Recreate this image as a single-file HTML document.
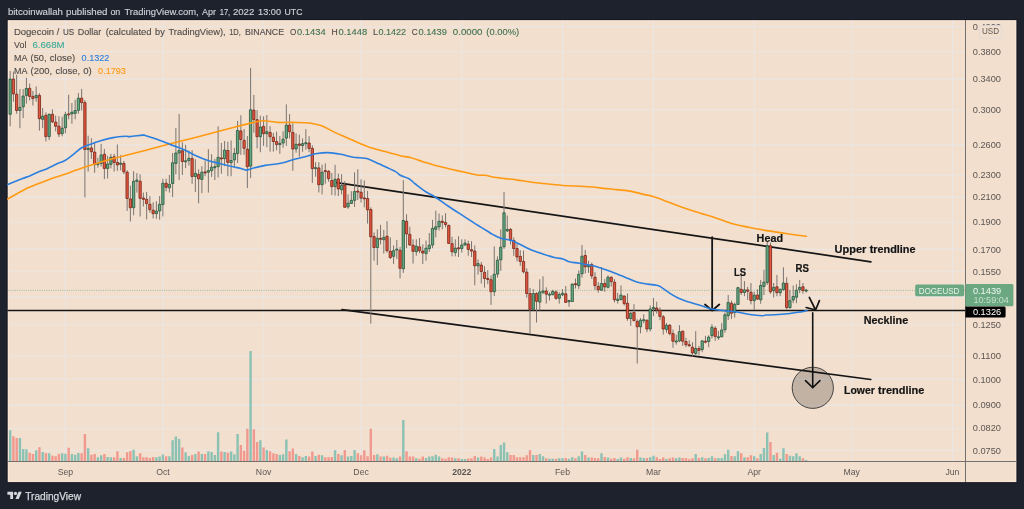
<!DOCTYPE html>
<html lang="en"><head><meta charset="utf-8"><title>DOGEUSD - TradingView</title>
<style>
html,body{margin:0;padding:0;background:#1e222d;}
body{width:1024px;height:509px;overflow:hidden;position:relative;font-family:"Liberation Sans",sans-serif;}
svg{position:absolute;left:0;top:0;display:block}
text{font-family:"Liberation Sans",sans-serif;}
.w{stroke:#7a7571;stroke-width:1;fill:none}
.g{fill:#68a985;stroke:#25553a;stroke-width:0.8}
.r{fill:#e3563f;stroke:#762417;stroke-width:0.8}
.grid{stroke:#eae6e3;stroke-width:1.1;fill:none}
.ax{font-size:8.7px;fill:#5b5653}
.lg{font-size:9.4px;fill:#4f4b48;stroke:#4f4b48;stroke-width:0.12}
.an{font-size:10.3px;font-weight:bold;fill:#141414;stroke:#141414;stroke-width:0.2;stroke-linejoin:round}
.dr{stroke:#151515;stroke-width:1.7;fill:none;stroke-linecap:round;stroke-linejoin:round}
</style></head><body>
<svg width="1024" height="509" viewBox="0 0 1024 509">
<rect x="0" y="0" width="1024" height="509" fill="#1e222d"/>
<rect x="7.2" y="19.7" width="1009.7" height="462.9" fill="none" stroke="#171a23" stroke-width="1"/>
<rect x="7.7" y="20.2" width="1008.7" height="461.9" fill="#f2dfce"/>
<rect x="8.5" y="21" width="1007.1" height="460.3" fill="none" stroke="#fbe9d9" stroke-width="0.8"/>

<path class="grid" d="M8 26.70H965M8 51.50H965M8 79.15H965M8 109.70H965M8 144.90H965M8 175.25H965M8 197.10H965M8 222.25H965M8 249.40H965M8 271.70H965M8 297.10H965M8 324.70H965M8 356.30H965M8 379.40H965M8 405.40H965M8 428.70H965M8 450.30H965M65.50 20.5V461M162.97 20.5V461M263.69 20.5V461M361.16 20.5V461M461.88 20.5V461M562.60 20.5V461M653.57 20.5V461M754.29 20.5V461M851.76 20.5V461M952.48 20.5V461"/>
<g class="dr">
<path d="M8 310.4H965" stroke-width="1.45"/>
<path d="M336.5 182.6L870.9 261.8"/>
<path d="M342 309.6L870.8 379.5"/>
<path d="M712.15 237.2V310.3M705 304.5L712.15 310.5L719.3 304.5" stroke-width="1.8"/>
<path d="M812.7 312.9V387.6M805.5 380.6L812.7 387.8L819.9 380.6" stroke-width="1.6"/>
<path d="M809.3 297.4L815.6 310M806.2 307.5L815.6 310L819.4 300.6"/>
</g>
<circle cx="812.8" cy="387.8" r="20.6" fill="#000" fill-opacity="0.2" stroke="#222" stroke-width="0.8"/>
<path fill="#26a69a" fill-opacity="0.5" d="M8.97 430.2h2.4V461h-2.4zM18.72 438.1h2.4V461h-2.4zM21.97 449.0h2.4V461h-2.4zM25.21 449.3h2.4V461h-2.4zM34.96 450.3h2.4V461h-2.4zM41.46 451.9h2.4V461h-2.4zM47.96 453.2h2.4V461h-2.4zM60.95 453.2h2.4V461h-2.4zM64.20 453.8h2.4V461h-2.4zM70.70 454.1h2.4V461h-2.4zM73.95 454.7h2.4V461h-2.4zM77.20 453.1h2.4V461h-2.4zM86.95 448.2h2.4V461h-2.4zM96.69 457.2h2.4V461h-2.4zM99.94 455.3h2.4V461h-2.4zM106.44 457.0h2.4V461h-2.4zM109.69 457.2h2.4V461h-2.4zM119.44 458.1h2.4V461h-2.4zM132.43 449.7h2.4V461h-2.4zM135.68 456.2h2.4V461h-2.4zM155.18 457.2h2.4V461h-2.4zM158.42 456.6h2.4V461h-2.4zM161.67 454.4h2.4V461h-2.4zM168.17 456.2h2.4V461h-2.4zM171.42 440.2h2.4V461h-2.4zM174.67 436.5h2.4V461h-2.4zM177.92 439.0h2.4V461h-2.4zM184.42 452.2h2.4V461h-2.4zM187.66 456.0h2.4V461h-2.4zM194.16 454.1h2.4V461h-2.4zM200.66 454.1h2.4V461h-2.4zM207.16 451.2h2.4V461h-2.4zM210.41 451.9h2.4V461h-2.4zM213.66 455.1h2.4V461h-2.4zM216.91 432.3h2.4V461h-2.4zM223.40 451.9h2.4V461h-2.4zM229.90 451.6h2.4V461h-2.4zM233.15 454.3h2.4V461h-2.4zM236.40 433.9h2.4V461h-2.4zM249.40 351.0h2.4V461h-2.4zM259.14 440.2h2.4V461h-2.4zM265.64 449.9h2.4V461h-2.4zM278.64 455.1h2.4V461h-2.4zM281.89 454.3h2.4V461h-2.4zM285.14 439.6h2.4V461h-2.4zM294.88 454.1h2.4V461h-2.4zM301.38 457.2h2.4V461h-2.4zM304.63 456.0h2.4V461h-2.4zM314.38 456.0h2.4V461h-2.4zM320.87 455.3h2.4V461h-2.4zM333.87 450.3h2.4V461h-2.4zM340.37 455.3h2.4V461h-2.4zM346.87 456.6h2.4V461h-2.4zM350.12 456.0h2.4V461h-2.4zM353.36 449.9h2.4V461h-2.4zM376.11 454.3h2.4V461h-2.4zM382.61 456.6h2.4V461h-2.4zM392.35 457.5h2.4V461h-2.4zM395.60 458.2h2.4V461h-2.4zM402.10 419.9h2.4V461h-2.4zM415.10 458.2h2.4V461h-2.4zM424.84 458.1h2.4V461h-2.4zM428.09 456.6h2.4V461h-2.4zM431.34 456.3h2.4V461h-2.4zM434.59 454.7h2.4V461h-2.4zM437.84 456.6h2.4V461h-2.4zM454.08 458.2h2.4V461h-2.4zM460.58 459.1h2.4V461h-2.4zM463.83 459.1h2.4V461h-2.4zM476.83 457.6h2.4V461h-2.4zM493.07 449.0h2.4V461h-2.4zM496.32 456.6h2.4V461h-2.4zM499.57 445.0h2.4V461h-2.4zM502.82 442.5h2.4V461h-2.4zM506.07 452.2h2.4V461h-2.4zM532.06 455.1h2.4V461h-2.4zM538.56 454.1h2.4V461h-2.4zM541.81 456.3h2.4V461h-2.4zM548.30 458.8h2.4V461h-2.4zM551.55 458.8h2.4V461h-2.4zM558.05 458.2h2.4V461h-2.4zM561.30 458.2h2.4V461h-2.4zM567.80 458.8h2.4V461h-2.4zM571.05 457.2h2.4V461h-2.4zM577.54 456.2h2.4V461h-2.4zM580.79 451.6h2.4V461h-2.4zM587.29 457.6h2.4V461h-2.4zM600.29 453.2h2.4V461h-2.4zM606.79 457.6h2.4V461h-2.4zM616.53 459.1h2.4V461h-2.4zM619.78 457.6h2.4V461h-2.4zM629.53 458.1h2.4V461h-2.4zM639.28 457.6h2.4V461h-2.4zM642.52 458.1h2.4V461h-2.4zM649.02 457.2h2.4V461h-2.4zM652.27 455.7h2.4V461h-2.4zM665.27 459.1h2.4V461h-2.4zM675.01 458.2h2.4V461h-2.4zM678.26 457.6h2.4V461h-2.4zM694.51 454.1h2.4V461h-2.4zM701.01 457.2h2.4V461h-2.4zM707.50 458.1h2.4V461h-2.4zM710.75 456.2h2.4V461h-2.4zM717.25 458.1h2.4V461h-2.4zM720.50 458.1h2.4V461h-2.4zM723.75 454.3h2.4V461h-2.4zM727.00 449.7h2.4V461h-2.4zM733.50 456.2h2.4V461h-2.4zM736.75 451.3h2.4V461h-2.4zM743.24 457.2h2.4V461h-2.4zM752.99 456.2h2.4V461h-2.4zM759.49 454.1h2.4V461h-2.4zM762.74 448.0h2.4V461h-2.4zM765.99 432.4h2.4V461h-2.4zM772.48 455.1h2.4V461h-2.4zM778.98 458.8h2.4V461h-2.4zM782.23 448.2h2.4V461h-2.4zM788.73 455.7h2.4V461h-2.4zM791.98 456.2h2.4V461h-2.4zM795.23 453.2h2.4V461h-2.4zM798.48 456.2h2.4V461h-2.4zM804.97 460.1h2.4V461h-2.4z"/>
<path fill="#ef5350" fill-opacity="0.5" d="M12.22 436.2h2.4V461h-2.4zM15.47 438.1h2.4V461h-2.4zM28.46 452.8h2.4V461h-2.4zM31.71 454.1h2.4V461h-2.4zM38.21 447.2h2.4V461h-2.4zM44.71 453.1h2.4V461h-2.4zM51.21 455.7h2.4V461h-2.4zM54.46 456.2h2.4V461h-2.4zM57.70 454.1h2.4V461h-2.4zM67.45 447.8h2.4V461h-2.4zM80.45 453.2h2.4V461h-2.4zM83.70 433.9h2.4V461h-2.4zM90.20 454.7h2.4V461h-2.4zM93.44 454.1h2.4V461h-2.4zM103.19 454.1h2.4V461h-2.4zM112.94 457.2h2.4V461h-2.4zM116.19 451.2h2.4V461h-2.4zM122.69 458.1h2.4V461h-2.4zM125.93 452.2h2.4V461h-2.4zM129.18 450.9h2.4V461h-2.4zM138.93 453.2h2.4V461h-2.4zM142.18 457.2h2.4V461h-2.4zM145.43 457.2h2.4V461h-2.4zM148.68 458.1h2.4V461h-2.4zM151.93 457.0h2.4V461h-2.4zM164.92 456.2h2.4V461h-2.4zM181.17 447.5h2.4V461h-2.4zM190.91 454.9h2.4V461h-2.4zM197.41 451.6h2.4V461h-2.4zM203.91 454.1h2.4V461h-2.4zM220.16 451.6h2.4V461h-2.4zM226.65 452.8h2.4V461h-2.4zM239.65 444.9h2.4V461h-2.4zM242.90 450.7h2.4V461h-2.4zM246.15 428.7h2.4V461h-2.4zM252.65 429.2h2.4V461h-2.4zM255.89 442.1h2.4V461h-2.4zM262.39 447.5h2.4V461h-2.4zM268.89 451.2h2.4V461h-2.4zM272.14 453.2h2.4V461h-2.4zM275.39 454.1h2.4V461h-2.4zM288.38 451.2h2.4V461h-2.4zM291.63 448.4h2.4V461h-2.4zM298.13 456.0h2.4V461h-2.4zM307.88 456.6h2.4V461h-2.4zM311.13 451.6h2.4V461h-2.4zM317.63 454.7h2.4V461h-2.4zM324.12 457.2h2.4V461h-2.4zM327.37 457.2h2.4V461h-2.4zM330.62 457.0h2.4V461h-2.4zM337.12 454.1h2.4V461h-2.4zM343.62 450.0h2.4V461h-2.4zM356.61 453.2h2.4V461h-2.4zM359.86 455.3h2.4V461h-2.4zM363.11 450.3h2.4V461h-2.4zM366.36 456.2h2.4V461h-2.4zM369.61 428.7h2.4V461h-2.4zM372.86 455.1h2.4V461h-2.4zM379.36 456.6h2.4V461h-2.4zM385.85 455.7h2.4V461h-2.4zM389.10 457.8h2.4V461h-2.4zM398.85 456.6h2.4V461h-2.4zM405.35 451.2h2.4V461h-2.4zM408.60 456.6h2.4V461h-2.4zM411.85 456.6h2.4V461h-2.4zM418.34 458.8h2.4V461h-2.4zM421.59 456.6h2.4V461h-2.4zM441.09 458.2h2.4V461h-2.4zM444.34 458.8h2.4V461h-2.4zM447.59 457.2h2.4V461h-2.4zM450.83 457.6h2.4V461h-2.4zM457.33 458.2h2.4V461h-2.4zM467.08 458.5h2.4V461h-2.4zM470.33 458.2h2.4V461h-2.4zM473.58 456.0h2.4V461h-2.4zM480.08 456.6h2.4V461h-2.4zM483.32 457.6h2.4V461h-2.4zM486.57 459.1h2.4V461h-2.4zM489.82 457.6h2.4V461h-2.4zM509.32 455.1h2.4V461h-2.4zM512.56 455.1h2.4V461h-2.4zM515.81 457.2h2.4V461h-2.4zM519.06 457.2h2.4V461h-2.4zM522.31 457.2h2.4V461h-2.4zM525.56 455.3h2.4V461h-2.4zM528.81 450.0h2.4V461h-2.4zM535.31 455.1h2.4V461h-2.4zM545.05 458.2h2.4V461h-2.4zM554.80 458.8h2.4V461h-2.4zM564.55 458.1h2.4V461h-2.4zM574.30 458.2h2.4V461h-2.4zM584.04 455.1h2.4V461h-2.4zM590.54 457.6h2.4V461h-2.4zM593.79 458.1h2.4V461h-2.4zM597.04 458.2h2.4V461h-2.4zM603.54 457.0h2.4V461h-2.4zM610.03 458.8h2.4V461h-2.4zM613.28 458.1h2.4V461h-2.4zM623.03 458.8h2.4V461h-2.4zM626.28 457.2h2.4V461h-2.4zM632.78 458.2h2.4V461h-2.4zM636.03 449.7h2.4V461h-2.4zM645.77 458.1h2.4V461h-2.4zM655.52 457.2h2.4V461h-2.4zM658.77 459.1h2.4V461h-2.4zM662.02 457.6h2.4V461h-2.4zM668.52 458.2h2.4V461h-2.4zM671.77 457.6h2.4V461h-2.4zM681.51 458.1h2.4V461h-2.4zM684.76 458.1h2.4V461h-2.4zM688.01 459.3h2.4V461h-2.4zM691.26 458.2h2.4V461h-2.4zM697.76 458.1h2.4V461h-2.4zM704.26 458.2h2.4V461h-2.4zM714.00 458.2h2.4V461h-2.4zM730.25 456.0h2.4V461h-2.4zM739.99 453.2h2.4V461h-2.4zM746.49 457.2h2.4V461h-2.4zM749.74 455.3h2.4V461h-2.4zM756.24 458.2h2.4V461h-2.4zM769.24 441.9h2.4V461h-2.4zM775.73 452.8h2.4V461h-2.4zM785.48 454.1h2.4V461h-2.4zM801.73 458.2h2.4V461h-2.4z"/>
<path d="M8 290.4H965" stroke="#6aa681" stroke-width="0.9" stroke-dasharray="0.9 1.36" stroke-opacity="0.75" fill="none"/>
<path class="w" d="M10.17 70.9V126.3M13.42 71.5V101.7M16.67 74.7V113.7M19.92 89.1V128.2M23.17 89.1V118.1M26.41 77.8V103.6M29.66 83.5V100.5M32.91 91.0V105.5M36.16 86.4V101.7M39.41 93.2V130.7M42.66 108.0V128.2M45.91 112.4V141.4M49.16 113.7V140.1M52.41 109.3V123.1M55.66 115.6V131.3M58.91 116.2V137.0M62.15 116.8V136.3M65.40 111.8V133.2M68.65 94.8V119.3M71.90 103.0V123.7M75.15 99.8V119.3M78.40 92.9V113.7M81.65 88.9V110.5M84.90 100.2V197.4M88.15 135.7V171.6M91.40 138.2V159.0M94.64 142.6V172.8M97.89 157.7V167.8M101.14 143.9V166.5M104.39 148.9V179.1M107.64 155.8V178.5M110.89 153.9V168.4M114.14 153.9V171.6M117.39 144.5V170.9M120.64 155.2V170.3M123.89 160.9V174.1M127.13 170.3V210.9M130.38 185.7V221.5M133.63 171.2V215.3M136.88 173.1V192.6M140.13 174.4V216.5M143.38 192.6V206.5M146.63 192.0V219.4M149.88 196.1V212.7M153.13 202.3V218.4M156.38 201.4V218.7M159.62 196.1V219.7M162.87 178.8V216.5M166.12 178.8V191.3M169.37 175.0V192.6M172.62 153.0V197.0M175.87 128.0V174.4M179.12 113.9V180.0M182.37 142.3V175.0M185.62 144.8V168.1M188.86 150.5V165.5M192.11 150.1V183.8M195.36 159.3V192.0M198.61 169.3V203.3M201.86 166.2V193.2M205.11 160.5V176.2M208.36 149.2V192.6M211.61 154.2V176.9M214.86 158.9V180.0M218.11 126.3V177.5M221.35 142.9V173.7M224.60 141.0V166.2M227.85 141.7V176.2M231.10 140.4V176.2M234.35 147.9V167.4M237.60 120.9V163.0M240.85 115.2V154.9M244.10 129.0V154.9M247.35 136.0V188.1M250.60 67.9V178.0M253.84 94.9V132.7M257.09 110.1V148.4M260.34 115.7V152.2M263.59 116.3V145.9M266.84 115.1V147.2M270.09 126.2V151.6M273.34 132.9V151.6M276.59 131.7V150.3M279.84 136.1V153.8M283.09 131.2V147.8M286.34 104.4V145.9M289.58 114.1V138.4M292.83 123.3V170.8M296.08 133.3V152.8M299.33 134.6V156.6M302.58 138.4V151.8M305.83 129.2V149.7M309.08 136.2V152.2M312.33 145.3V183.0M315.58 162.2V176.7M318.83 162.2V192.5M322.07 164.6V194.4M325.32 163.3V183.7M328.57 170.1V181.8M331.82 173.0V195.0M335.07 164.8V195.6M338.32 173.6V196.0M341.57 174.2V194.4M344.82 181.1V207.3M348.07 194.4V208.8M351.32 191.2V203.5M354.56 172.3V206.9M357.81 169.2V200.0M361.06 179.3V202.5M364.31 180.5V207.3M367.56 190.9V223.6M370.81 207.3V323.7M374.06 232.4V260.7M377.31 229.3V265.1M380.56 224.9V244.4M383.81 229.9V253.6M387.05 221.1V252.6M390.30 237.4V258.9M393.55 245.4V263.9M396.80 240.0V258.9M400.05 246.9V278.4M403.30 180.2V272.9M406.55 214.2V248.2M409.80 226.8V245.7M413.05 239.3V263.6M416.30 239.3V255.7M419.54 238.1V253.2M422.79 244.4V263.9M426.04 240.6V260.7M429.29 233.0V251.9M432.54 219.8V248.2M435.79 210.7V237.4M439.04 213.5V230.5M442.29 215.4V229.3M445.54 213.2V227.4M448.79 224.5V243.8M452.03 236.8V256.3M455.28 239.3V256.3M458.53 236.2V257.0M461.78 239.3V252.6M465.03 239.3V245.7M468.28 240.6V255.7M471.53 241.2V257.0M474.78 245.4V285.3M478.03 259.5V274.6M481.28 262.0V283.5M484.52 266.2V287.6M487.77 270.2V284.1M491.02 275.3V304.9M494.27 246.4V296.1M497.52 256.4V277.6M500.77 229.4V270.9M504.02 191.9V248.9M507.27 215.5V231.9M510.52 228.1V244.5M513.76 237.5V255.8M517.01 243.8V261.4M520.26 250.1V265.8M523.51 250.5V273.4M526.76 268.4V297.7M530.01 287.9V333.4M533.26 289.1V310.5M536.51 292.3V322.5M539.76 279.3V310.5M543.01 276.3V294.2M546.25 287.3V303.6M549.50 292.3V300.5M552.75 289.8V295.4M556.00 290.4V299.8M559.25 292.3V303.6M562.50 289.1V296.1M565.75 286.0V303.0M569.00 299.8V306.8M572.25 283.5V301.7M575.50 278.5V288.5M578.75 270.5V288.9M581.99 245.1V277.6M585.24 249.9V273.4M588.49 260.8V272.8M591.74 262.7V278.8M594.99 272.2V289.8M598.24 282.2V292.7M601.49 267.1V290.8M604.74 279.1V291.9M607.99 275.3V288.5M611.24 276.6V286.6M614.48 279.1V302.4M617.73 292.9V303.6M620.98 285.4V300.5M624.23 295.4V305.5M627.48 293.5V320.8M630.73 311.8V325.8M633.98 304.2V321.4M637.23 319.3V363.6M640.48 318.1V333.4M643.73 314.3V323.3M646.97 319.3V332.1M650.22 305.5V331.5M653.47 297.9V316.2M656.72 301.7V313.7M659.97 307.4V320.2M663.22 314.9V334.6M666.47 323.1V332.7M669.72 324.1V335.3M672.97 329.6V347.8M676.22 334.6V344.7M679.46 325.2V342.2M682.71 330.6V345.9M685.96 337.8V347.2M689.21 340.3V346.6M692.46 342.2V356.6M695.71 331.1V355.4M698.96 345.9V355.4M702.21 339.9V352.2M705.46 335.9V343.4M708.70 335.3V347.2M711.95 324.3V338.4M715.20 326.1V340.9M718.45 330.9V339.9M721.70 323.1V337.1M724.95 312.4V332.7M728.20 295.0V320.0M731.45 300.6V318.9M734.70 302.5V317.6M737.95 286.8V305.0M741.19 274.9V295.0M744.44 281.1V296.2M747.69 286.8V300.0M750.94 283.0V304.4M754.19 291.8V310.1M757.44 289.3V300.0M760.69 279.9V303.8M763.94 269.8V295.0M767.19 241.9V284.9M770.44 242.6V293.7M773.68 283.0V297.5M776.93 274.9V296.2M780.18 288.7V296.2M783.43 267.3V290.6M786.68 277.4V309.4M789.93 289.9V308.8M793.18 285.5V303.2M796.43 284.3V303.2M799.68 279.9V293.1M802.93 283.0V293.7M806.17 288.9V292.5"/>
<path class="g" d="M9.02 79.1h2.3V114.3h-2.3zM18.77 107.4h2.3V110.5h-2.3zM22.02 96.1h2.3V106.8h-2.3zM25.27 88.5h2.3V95.4h-2.3zM35.01 95.4h2.3V97.7h-2.3zM41.51 116.2h2.3V119.3h-2.3zM48.01 114.3h2.3V136.6h-2.3zM61.00 128.2h2.3V133.6h-2.3zM64.25 114.7h2.3V127.8h-2.3zM70.75 112.2h2.3V113.9h-2.3zM74.00 110.5h2.3V113.3h-2.3zM77.25 98.2h2.3V110.3h-2.3zM87.00 148.3h2.3V149.5h-2.3zM96.74 163.4h2.3V164.6h-2.3zM99.99 155.0h2.3V163.4h-2.3zM106.49 164.0h2.3V168.4h-2.3zM109.74 157.3h2.3V164.3h-2.3zM119.49 163.1h2.3V164.3h-2.3zM132.48 181.3h2.3V207.7h-2.3zM135.73 180.0h2.3V181.3h-2.3zM155.22 211.1h2.3V213.6h-2.3zM158.47 204.3h2.3V210.9h-2.3zM161.72 183.2h2.3V204.6h-2.3zM168.22 184.4h2.3V187.8h-2.3zM171.47 162.8h2.3V183.5h-2.3zM174.72 153.0h2.3V163.4h-2.3zM177.97 150.5h2.3V153.0h-2.3zM184.47 160.8h2.3V161.8h-2.3zM187.71 158.3h2.3V160.5h-2.3zM194.21 173.3h2.3V176.5h-2.3zM200.71 172.2h2.3V179.4h-2.3zM207.21 170.6h2.3V172.2h-2.3zM210.46 167.2h2.3V170.6h-2.3zM213.71 166.7h2.3V167.7h-2.3zM216.96 157.4h2.3V166.6h-2.3zM223.45 150.1h2.3V158.6h-2.3zM229.95 160.5h2.3V162.7h-2.3zM233.20 153.4h2.3V159.9h-2.3zM236.45 130.5h2.3V153.6h-2.3zM249.45 109.8h2.3V166.1h-2.3zM259.19 127.0h2.3V136.7h-2.3zM265.69 131.7h2.3V133.7h-2.3zM278.69 143.4h2.3V144.6h-2.3zM281.94 139.2h2.3V143.0h-2.3zM285.19 125.1h2.3V138.1h-2.3zM294.93 144.3h2.3V149.0h-2.3zM301.43 143.6h2.3V145.6h-2.3zM304.68 142.7h2.3V143.7h-2.3zM314.43 167.6h2.3V168.6h-2.3zM320.92 172.3h2.3V184.7h-2.3zM333.92 179.3h2.3V186.6h-2.3zM340.42 185.5h2.3V189.7h-2.3zM346.92 203.2h2.3V206.9h-2.3zM350.17 200.4h2.3V203.5h-2.3zM353.41 191.6h2.3V200.3h-2.3zM376.16 238.3h2.3V247.5h-2.3zM382.66 237.4h2.3V239.7h-2.3zM392.40 250.7h2.3V256.3h-2.3zM395.65 249.1h2.3V250.1h-2.3zM402.15 220.5h2.3V268.7h-2.3zM415.15 246.2h2.3V251.7h-2.3zM424.89 248.2h2.3V253.6h-2.3zM428.14 245.2h2.3V248.6h-2.3zM431.39 228.4h2.3V245.0h-2.3zM434.64 226.8h2.3V229.3h-2.3zM437.89 221.3h2.3V226.8h-2.3zM454.13 248.2h2.3V252.6h-2.3zM460.63 245.0h2.3V248.6h-2.3zM463.88 243.1h2.3V245.0h-2.3zM476.88 263.6h2.3V265.8h-2.3zM493.12 274.3h2.3V291.7h-2.3zM496.37 260.2h2.3V274.1h-2.3zM499.62 247.2h2.3V259.8h-2.3zM502.87 212.8h2.3V246.7h-2.3zM506.12 229.4h2.3V230.9h-2.3zM532.11 293.5h2.3V309.3h-2.3zM538.61 291.9h2.3V302.1h-2.3zM541.86 291.0h2.3V292.3h-2.3zM548.35 294.2h2.3V295.2h-2.3zM551.60 291.4h2.3V294.6h-2.3zM558.10 294.6h2.3V298.3h-2.3zM561.35 293.2h2.3V294.8h-2.3zM567.85 300.5h2.3V301.7h-2.3zM571.10 284.1h2.3V301.5h-2.3zM577.60 274.3h2.3V285.6h-2.3zM580.84 256.2h2.3V273.7h-2.3zM587.34 265.2h2.3V266.8h-2.3zM600.34 283.5h2.3V290.2h-2.3zM606.84 277.2h2.3V287.3h-2.3zM616.58 299.2h2.3V300.5h-2.3zM619.83 295.1h2.3V299.5h-2.3zM629.58 313.3h2.3V318.5h-2.3zM639.33 320.2h2.3V326.8h-2.3zM642.58 319.7h2.3V320.7h-2.3zM649.07 309.0h2.3V329.0h-2.3zM652.32 307.4h2.3V309.0h-2.3zM665.32 325.2h2.3V329.4h-2.3zM675.07 341.0h2.3V342.0h-2.3zM678.31 331.7h2.3V340.9h-2.3zM694.56 348.5h2.3V353.5h-2.3zM701.06 340.9h2.3V349.5h-2.3zM707.55 337.1h2.3V341.5h-2.3zM710.80 327.3h2.3V335.6h-2.3zM717.30 336.8h2.3V337.8h-2.3zM720.55 330.0h2.3V336.8h-2.3zM723.80 314.8h2.3V329.6h-2.3zM727.05 302.5h2.3V315.7h-2.3zM733.55 304.4h2.3V312.6h-2.3zM736.80 287.7h2.3V304.4h-2.3zM743.29 289.9h2.3V292.5h-2.3zM753.04 295.2h2.3V300.6h-2.3zM759.54 285.5h2.3V299.8h-2.3zM762.79 282.2h2.3V286.4h-2.3zM766.04 245.7h2.3V282.4h-2.3zM772.53 287.4h2.3V290.6h-2.3zM779.03 289.3h2.3V292.7h-2.3zM782.28 283.0h2.3V289.7h-2.3zM788.78 300.6h2.3V307.6h-2.3zM792.03 296.5h2.3V300.0h-2.3zM795.28 290.3h2.3V297.2h-2.3zM798.53 287.4h2.3V289.7h-2.3zM805.02 290.1h2.3V291.1h-2.3z"/>
<path class="r" d="M12.27 79.1h2.3V93.9h-2.3zM15.52 94.2h2.3V110.5h-2.3zM28.51 88.3h2.3V96.4h-2.3zM31.76 96.4h2.3V98.6h-2.3zM38.26 95.4h2.3V118.7h-2.3zM44.76 115.3h2.3V136.6h-2.3zM51.26 114.3h2.3V121.8h-2.3zM54.51 122.1h2.3V126.2h-2.3zM57.76 126.2h2.3V134.1h-2.3zM67.50 113.9h2.3V114.9h-2.3zM80.50 98.2h2.3V102.6h-2.3zM83.75 102.6h2.3V149.5h-2.3zM90.25 147.9h2.3V151.7h-2.3zM93.49 152.1h2.3V164.6h-2.3zM103.24 154.2h2.3V168.4h-2.3zM112.99 156.8h2.3V162.4h-2.3zM116.24 162.4h2.3V164.9h-2.3zM122.73 163.4h2.3V171.8h-2.3zM125.98 172.2h2.3V198.5h-2.3zM129.23 198.9h2.3V207.7h-2.3zM138.98 181.3h2.3V198.3h-2.3zM142.23 198.0h2.3V199.3h-2.3zM145.48 199.3h2.3V203.6h-2.3zM148.73 204.2h2.3V209.6h-2.3zM151.98 210.2h2.3V213.6h-2.3zM164.97 183.2h2.3V187.3h-2.3zM181.22 150.8h2.3V161.5h-2.3zM190.96 158.4h2.3V176.5h-2.3zM197.46 174.4h2.3V178.8h-2.3zM203.96 171.9h2.3V172.9h-2.3zM220.20 157.9h2.3V158.9h-2.3zM226.70 150.5h2.3V162.4h-2.3zM239.70 130.9h2.3V139.5h-2.3zM242.95 140.4h2.3V148.3h-2.3zM246.20 149.2h2.3V166.7h-2.3zM252.69 110.1h2.3V119.5h-2.3zM255.94 119.7h2.3V136.7h-2.3zM262.44 126.4h2.3V133.7h-2.3zM268.94 132.4h2.3V136.7h-2.3zM272.19 137.3h2.3V141.5h-2.3zM275.44 141.5h2.3V144.6h-2.3zM288.43 125.1h2.3V131.8h-2.3zM291.68 132.4h2.3V149.0h-2.3zM298.18 144.0h2.3V145.3h-2.3zM307.93 143.0h2.3V148.4h-2.3zM311.18 148.4h2.3V168.6h-2.3zM317.68 167.9h2.3V184.7h-2.3zM324.17 170.6h2.3V171.6h-2.3zM327.42 171.3h2.3V178.6h-2.3zM330.67 180.5h2.3V186.6h-2.3zM337.17 178.9h2.3V188.9h-2.3zM343.67 185.2h2.3V207.3h-2.3zM356.66 191.1h2.3V192.1h-2.3zM359.91 192.2h2.3V198.1h-2.3zM363.16 197.9h2.3V198.9h-2.3zM366.41 198.5h2.3V209.8h-2.3zM369.66 209.5h2.3V236.8h-2.3zM372.91 236.6h2.3V247.5h-2.3zM379.41 238.3h2.3V239.3h-2.3zM385.90 236.2h2.3V250.7h-2.3zM389.15 251.3h2.3V257.6h-2.3zM398.90 250.3h2.3V268.3h-2.3zM405.40 221.3h2.3V233.9h-2.3zM408.65 234.3h2.3V245.0h-2.3zM411.90 245.2h2.3V251.3h-2.3zM418.39 246.9h2.3V250.7h-2.3zM421.64 251.1h2.3V253.0h-2.3zM441.14 221.3h2.3V222.4h-2.3zM444.39 222.4h2.3V224.6h-2.3zM447.64 225.5h2.3V243.4h-2.3zM450.88 243.7h2.3V251.7h-2.3zM457.38 247.8h2.3V248.8h-2.3zM467.13 244.1h2.3V249.4h-2.3zM470.38 249.7h2.3V251.1h-2.3zM473.63 251.1h2.3V265.8h-2.3zM480.13 265.1h2.3V271.5h-2.3zM483.37 272.3h2.3V278.5h-2.3zM486.62 278.4h2.3V279.5h-2.3zM489.87 279.7h2.3V291.7h-2.3zM509.37 229.4h2.3V239.7h-2.3zM512.62 240.4h2.3V248.5h-2.3zM515.86 248.5h2.3V257.0h-2.3zM519.11 256.4h2.3V261.4h-2.3zM522.36 261.4h2.3V271.8h-2.3zM525.61 272.2h2.3V293.5h-2.3zM528.86 293.5h2.3V309.3h-2.3zM535.36 293.5h2.3V301.3h-2.3zM545.11 291.0h2.3V294.2h-2.3zM554.85 291.9h2.3V298.3h-2.3zM564.60 293.8h2.3V302.4h-2.3zM574.35 283.7h2.3V284.7h-2.3zM584.09 255.5h2.3V266.8h-2.3zM590.59 264.6h2.3V275.9h-2.3zM593.84 277.2h2.3V285.6h-2.3zM597.09 286.4h2.3V289.8h-2.3zM603.59 283.5h2.3V286.9h-2.3zM610.09 277.2h2.3V281.6h-2.3zM613.33 282.2h2.3V299.8h-2.3zM623.08 296.1h2.3V303.6h-2.3zM626.33 303.2h2.3V318.5h-2.3zM632.83 312.4h2.3V320.6h-2.3zM636.08 321.4h2.3V326.8h-2.3zM645.82 320.3h2.3V329.0h-2.3zM655.57 308.0h2.3V309.9h-2.3zM658.82 310.3h2.3V316.4h-2.3zM662.07 316.8h2.3V329.0h-2.3zM668.57 325.2h2.3V333.6h-2.3zM671.82 333.6h2.3V341.2h-2.3zM681.56 331.2h2.3V341.2h-2.3zM684.81 341.5h2.3V344.7h-2.3zM688.06 344.8h2.3V345.8h-2.3zM691.31 347.2h2.3V352.9h-2.3zM697.81 348.5h2.3V350.4h-2.3zM704.31 341.2h2.3V342.2h-2.3zM714.05 328.3h2.3V336.5h-2.3zM730.30 303.2h2.3V313.2h-2.3zM740.04 289.3h2.3V292.5h-2.3zM746.54 289.9h2.3V291.2h-2.3zM749.79 292.2h2.3V300.6h-2.3zM756.29 295.0h2.3V299.1h-2.3zM769.29 245.7h2.3V291.8h-2.3zM775.78 286.8h2.3V292.7h-2.3zM785.53 283.4h2.3V307.6h-2.3zM801.78 286.8h2.3V290.6h-2.3z"/>
<path d="M7.8 199.0C10.7 197.4 19.7 191.9 25.1 189.2C30.5 186.5 36.0 184.6 40.2 182.9C44.4 181.2 46.1 180.6 50.3 179.1C54.5 177.6 61.2 175.6 65.4 174.1C69.6 172.6 71.6 171.7 75.4 170.3C79.2 168.9 83.8 167.2 88.0 165.9C92.2 164.6 96.4 163.5 100.6 162.3C104.8 161.1 108.6 159.8 113.2 158.6C117.8 157.3 122.7 156.2 128.0 154.8C133.3 153.4 138.0 152.2 145.1 150.4C152.2 148.6 161.9 146.0 170.3 143.8C178.7 141.7 187.5 139.5 195.4 137.5C203.3 135.5 211.1 133.4 218.0 131.6C224.9 129.8 231.2 128.0 237.0 126.5C242.8 125.0 248.2 123.6 252.6 122.6C257.0 121.6 259.4 120.7 263.6 120.7C267.8 120.7 272.8 122.1 277.7 122.4C282.6 122.7 287.6 122.3 292.8 122.4C298.1 122.5 304.4 122.4 309.2 123.0C314.0 123.6 317.5 124.3 321.7 125.8C325.9 127.3 330.1 130.1 334.3 132.1C338.5 134.1 342.7 135.8 346.9 137.7C351.1 139.5 355.6 141.6 359.5 143.2C363.4 144.8 365.7 146.1 370.0 147.5C374.3 148.9 380.1 150.2 385.1 151.6C390.1 153.0 396.0 154.7 400.2 155.7C404.4 156.7 406.5 156.5 410.3 157.5C414.1 158.5 418.7 160.4 422.9 161.7C427.1 163.0 431.2 164.4 435.4 165.5C439.6 166.6 443.8 167.5 448.0 168.5C452.2 169.5 455.8 170.3 460.6 171.4C465.4 172.5 472.9 174.3 477.0 175.0C481.1 175.7 482.4 175.0 485.0 175.3C487.6 175.6 489.2 176.4 492.6 177.0C496.0 177.6 500.9 178.1 505.1 178.6C509.3 179.1 513.5 179.5 517.7 180.1C521.9 180.7 526.1 181.4 530.3 182.0C534.5 182.6 538.7 183.0 542.9 183.5C547.1 184.0 551.2 184.4 555.4 184.8C559.6 185.2 563.8 185.6 568.0 185.8C572.2 186.0 576.4 186.0 580.6 186.2C584.8 186.4 590.0 186.7 593.2 187.0C596.4 187.3 596.8 187.5 600.0 187.9C603.2 188.3 607.6 188.7 612.6 189.2C617.6 189.7 625.4 190.3 630.2 191.1C635.0 191.9 637.7 193.0 641.5 193.9C645.3 194.8 649.2 195.4 652.8 196.4C656.4 197.4 659.1 198.5 662.9 199.9C666.7 201.3 671.2 203.1 675.4 204.7C679.6 206.3 683.8 207.9 688.0 209.3C692.2 210.7 696.4 212.0 700.6 213.3C704.8 214.6 708.2 215.2 713.2 216.9C718.2 218.6 724.8 221.5 730.9 223.3C737.0 225.1 743.4 226.2 749.7 227.5C756.0 228.8 762.3 229.8 768.6 230.9C774.9 232.0 781.1 232.9 787.4 233.8C793.7 234.7 803.1 235.9 806.3 236.3" fill="none" stroke="#ff9a12" stroke-width="1.6" stroke-linejoin="round" stroke-linecap="round"/>
<path d="M7.8 184.5C10.3 183.5 19.1 179.9 22.6 178.5C26.1 177.1 26.4 177.2 28.9 176.2C31.4 175.1 34.8 173.4 37.7 172.2C40.6 171.0 43.4 170.4 46.5 169.0C49.6 167.6 53.5 165.5 56.6 164.0C59.8 162.5 62.3 162.1 65.4 160.2C68.5 158.3 72.7 154.8 75.4 152.7C78.1 150.6 79.6 149.0 81.7 147.7C83.8 146.4 84.8 146.3 88.0 145.1C91.2 143.9 96.4 141.9 100.6 140.7C104.8 139.4 109.0 138.3 113.2 137.6C117.4 136.9 122.9 136.5 125.7 136.3C128.5 136.1 127.2 136.8 130.0 136.6C132.8 136.4 140.1 135.3 142.6 135.1C145.1 134.9 142.7 134.7 145.1 135.4C147.5 136.1 152.8 137.8 157.0 139.3C161.2 140.8 166.0 142.8 170.3 144.5C174.6 146.2 178.7 147.4 182.9 149.2C187.1 151.0 191.2 153.6 195.4 155.5C199.6 157.4 203.8 159.1 208.0 160.5C212.2 161.9 216.4 162.6 220.6 163.7C224.8 164.8 230.0 166.1 233.2 166.8C236.4 167.6 237.8 167.6 240.0 168.2C242.2 168.8 244.2 170.1 246.3 170.1C248.4 170.1 249.5 169.1 252.6 168.3C255.7 167.5 261.1 166.1 265.1 165.4C269.1 164.7 273.4 164.5 276.5 164.0C279.6 163.5 281.3 163.2 284.0 162.5C286.7 161.8 289.7 160.7 292.8 159.8C295.9 158.9 300.2 157.9 302.9 157.2C305.6 156.5 307.1 156.2 309.2 155.6C311.3 155.0 312.3 154.3 315.4 153.8C318.5 153.3 323.8 152.5 328.0 152.6C332.2 152.7 336.4 153.5 340.6 154.3C344.8 155.1 350.0 156.6 353.2 157.2C356.4 157.8 357.6 157.5 360.0 157.8C362.4 158.1 364.4 157.8 367.5 158.8C370.6 159.8 374.3 161.7 378.9 163.8C383.5 165.9 391.6 169.5 395.2 171.4C398.8 173.3 397.9 174.0 400.2 175.2C402.5 176.4 406.5 177.2 409.0 178.7C411.5 180.2 412.6 181.9 415.3 184.0C418.0 186.1 422.0 189.3 425.4 191.5C428.8 193.7 431.6 194.8 435.4 197.2C439.2 199.6 443.8 203.2 448.0 206.0C452.2 208.8 456.4 211.5 460.6 214.2C464.8 216.9 470.0 220.3 473.2 222.4C476.4 224.5 477.5 225.1 480.0 226.6C482.5 228.1 485.9 230.2 488.0 231.5C490.1 232.8 490.5 233.3 492.6 234.4C494.7 235.5 497.6 237.2 500.7 238.2C503.8 239.2 508.1 239.3 511.4 240.4C514.6 241.5 517.1 243.0 520.2 244.5C523.4 246.0 526.5 247.9 530.3 249.5C534.1 251.1 538.7 252.5 542.9 253.9C547.1 255.3 552.0 256.9 555.4 257.7C558.8 258.5 560.7 258.2 563.0 258.9C565.3 259.6 566.6 261.1 569.3 261.8C572.0 262.5 575.3 262.6 579.3 263.3C583.3 264.0 589.8 265.1 593.2 265.8C596.7 266.6 596.8 266.7 600.0 267.8C603.2 268.9 608.4 270.6 612.6 272.2C616.8 273.8 620.9 275.5 625.1 277.2C629.3 278.9 633.9 281.0 637.7 282.2C641.5 283.4 644.9 283.6 647.8 284.1C650.7 284.6 653.2 284.7 655.3 285.1C657.4 285.5 658.1 285.3 660.4 286.6C662.7 287.9 666.3 291.0 669.2 292.9C672.1 294.8 674.9 296.5 678.0 298.0C681.1 299.5 684.2 300.4 688.0 301.7C691.8 302.9 696.4 304.2 700.6 305.5C704.8 306.8 709.2 308.4 713.2 309.3C717.2 310.2 720.6 310.2 724.6 310.7C728.6 311.1 732.9 311.4 737.1 312.0C741.3 312.6 745.5 313.9 749.7 314.5C753.9 315.1 759.6 315.6 762.3 315.7C765.0 315.8 763.9 315.1 766.0 315.0C768.1 314.9 771.3 315.0 774.9 314.8C778.5 314.6 783.2 314.3 787.4 313.8C791.6 313.3 796.8 312.5 800.0 312.0C803.2 311.5 805.7 310.8 806.8 310.6" fill="none" stroke="#2b7fdf" stroke-width="1.6" stroke-linejoin="round" stroke-linecap="round"/>
<text y="241.7" class="an"><tspan x="756.6" textLength="26.4" lengthAdjust="spacingAndGlyphs">Head</tspan></text>
<text y="276.1" class="an"><tspan x="734.0" textLength="12.0" lengthAdjust="spacingAndGlyphs">LS</tspan></text>
<text y="272.4" class="an"><tspan x="795.5" textLength="13.4" lengthAdjust="spacingAndGlyphs">RS</tspan></text>
<text y="253.1" class="an"><tspan x="834.6" textLength="31.8" lengthAdjust="spacingAndGlyphs">Upper</tspan> <tspan x="869.7" textLength="45.8" lengthAdjust="spacingAndGlyphs">trendline</tspan></text>
<text y="323.6" class="an"><tspan x="863.8" textLength="44.4" lengthAdjust="spacingAndGlyphs">Neckline</tspan></text>
<text y="394.2" class="an"><tspan x="844.1" textLength="30.7" lengthAdjust="spacingAndGlyphs">Lower</tspan> <tspan x="878.1" textLength="46.2" lengthAdjust="spacingAndGlyphs">trendline</tspan></text>
<text y="35.4" class="lg"><tspan x="13.9" textLength="40.2" lengthAdjust="spacingAndGlyphs">Dogecoin</tspan> <tspan x="56.8" textLength="2.5" lengthAdjust="spacingAndGlyphs">/</tspan> <tspan x="62.9" textLength="11.3" lengthAdjust="spacingAndGlyphs">US</tspan> <tspan x="77.7" textLength="23.5" lengthAdjust="spacingAndGlyphs">Dollar</tspan> <tspan x="105.7" textLength="45.9" lengthAdjust="spacingAndGlyphs">(calculated</tspan> <tspan x="155.1" textLength="9.7" lengthAdjust="spacingAndGlyphs">by</tspan> <tspan x="168.5" textLength="57.2" lengthAdjust="spacingAndGlyphs">TradingView),</tspan> <tspan x="229.2" textLength="11.7" lengthAdjust="spacingAndGlyphs">1D,</tspan> <tspan x="245.0" textLength="39.1" lengthAdjust="spacingAndGlyphs">BINANCE</tspan> <tspan x="289.9" textLength="6.3" lengthAdjust="spacingAndGlyphs">O</tspan> <tspan x="297.0" textLength="28.6" lengthAdjust="spacingAndGlyphs" fill="#3f7251" stroke="#3f7251">0.1434</tspan> <tspan x="331.6" textLength="6.2" lengthAdjust="spacingAndGlyphs">H</tspan> <tspan x="338.5" textLength="28.6" lengthAdjust="spacingAndGlyphs" fill="#3f7251" stroke="#3f7251">0.1448</tspan> <tspan x="372.9" textLength="4.7" lengthAdjust="spacingAndGlyphs">L</tspan> <tspan x="378.4" textLength="27.7" lengthAdjust="spacingAndGlyphs" fill="#3f7251" stroke="#3f7251">0.1422</tspan> <tspan x="411.7" textLength="5.9" lengthAdjust="spacingAndGlyphs">C</tspan> <tspan x="418.4" textLength="28.5" lengthAdjust="spacingAndGlyphs" fill="#3f7251" stroke="#3f7251">0.1439</tspan> <tspan x="452.8" textLength="29.7" lengthAdjust="spacingAndGlyphs" fill="#3f7251" stroke="#3f7251">0.0000</tspan> <tspan x="486.3" textLength="32.9" lengthAdjust="spacingAndGlyphs" fill="#3f7251" stroke="#3f7251">(0.00%)</tspan></text>
<text y="48.3" class="lg"><tspan x="14.1" textLength="12.3" lengthAdjust="spacingAndGlyphs">Vol</tspan> <tspan x="32.5" textLength="32.1" lengthAdjust="spacingAndGlyphs" fill="#3daa98" stroke="#3daa98">6.668M</tspan></text>
<text y="61.3" class="lg"><tspan x="14.1" textLength="12.9" lengthAdjust="spacingAndGlyphs">MA</tspan> <tspan x="30.6" textLength="15.9" lengthAdjust="spacingAndGlyphs">(50,</tspan> <tspan x="49.8" textLength="25.4" lengthAdjust="spacingAndGlyphs">close)</tspan> <tspan x="81.6" textLength="27.7" lengthAdjust="spacingAndGlyphs" fill="#2b7fdf" stroke="#2b7fdf">0.1322</tspan></text>
<text y="74.2" class="lg"><tspan x="14.1" textLength="12.9" lengthAdjust="spacingAndGlyphs">MA</tspan> <tspan x="30.6" textLength="21.6" lengthAdjust="spacingAndGlyphs">(200,</tspan> <tspan x="55.5" textLength="24.5" lengthAdjust="spacingAndGlyphs">close,</tspan> <tspan x="83.3" textLength="8.5" lengthAdjust="spacingAndGlyphs">0)</tspan> <tspan x="98.1" textLength="27.7" lengthAdjust="spacingAndGlyphs" fill="#ff9a12" stroke="#ff9a12">0.1793</tspan></text>
<path d="M965.5 20.2V482.1M7.7 461.5H1016.4" stroke="#75706c" stroke-width="1" fill="none" shape-rendering="crispEdges"/>
<text y="29.8" class="ax"><tspan x="972.8" textLength="28.2" lengthAdjust="spacingAndGlyphs">0.4200</tspan></text>
<text y="54.6" class="ax"><tspan x="972.8" textLength="28.2" lengthAdjust="spacingAndGlyphs">0.3800</tspan></text>
<text y="82.2" class="ax"><tspan x="972.8" textLength="28.2" lengthAdjust="spacingAndGlyphs">0.3400</tspan></text>
<text y="112.8" class="ax"><tspan x="972.8" textLength="28.2" lengthAdjust="spacingAndGlyphs">0.3000</tspan></text>
<text y="148.0" class="ax"><tspan x="972.8" textLength="28.2" lengthAdjust="spacingAndGlyphs">0.2600</tspan></text>
<text y="178.3" class="ax"><tspan x="972.8" textLength="28.2" lengthAdjust="spacingAndGlyphs">0.2300</tspan></text>
<text y="200.2" class="ax"><tspan x="972.8" textLength="28.2" lengthAdjust="spacingAndGlyphs">0.2100</tspan></text>
<text y="225.3" class="ax"><tspan x="972.8" textLength="28.2" lengthAdjust="spacingAndGlyphs">0.1900</tspan></text>
<text y="252.5" class="ax"><tspan x="972.8" textLength="28.2" lengthAdjust="spacingAndGlyphs">0.1700</tspan></text>
<text y="274.8" class="ax"><tspan x="972.8" textLength="28.2" lengthAdjust="spacingAndGlyphs">0.1550</tspan></text>
<text y="327.8" class="ax"><tspan x="972.8" textLength="28.2" lengthAdjust="spacingAndGlyphs">0.1250</tspan></text>
<text y="359.4" class="ax"><tspan x="972.8" textLength="28.2" lengthAdjust="spacingAndGlyphs">0.1100</tspan></text>
<text y="382.5" class="ax"><tspan x="972.8" textLength="28.2" lengthAdjust="spacingAndGlyphs">0.1000</tspan></text>
<text y="408.1" class="ax"><tspan x="972.8" textLength="28.2" lengthAdjust="spacingAndGlyphs">0.0900</tspan></text>
<text y="431.4" class="ax"><tspan x="972.8" textLength="28.2" lengthAdjust="spacingAndGlyphs">0.0820</tspan></text>
<text y="453.8" class="ax"><tspan x="972.8" textLength="28.2" lengthAdjust="spacingAndGlyphs">0.0750</tspan></text>
<text x="65.4" y="474.9" text-anchor="middle" class="ax">Sep</text>
<text x="162.9" y="474.9" text-anchor="middle" class="ax">Oct</text>
<text x="263.6" y="474.9" text-anchor="middle" class="ax">Nov</text>
<text x="361.1" y="474.9" text-anchor="middle" class="ax">Dec</text>
<text x="461.8" y="474.9" text-anchor="middle" class="ax" font-weight="bold">2022</text>
<text x="562.5" y="474.9" text-anchor="middle" class="ax">Feb</text>
<text x="653.5" y="474.9" text-anchor="middle" class="ax">Mar</text>
<text x="754.2" y="474.9" text-anchor="middle" class="ax">Apr</text>
<text x="851.7" y="474.9" text-anchor="middle" class="ax">May</text>
<text x="952.4" y="474.9" text-anchor="middle" class="ax">Jun</text>
<rect x="979.3" y="25.7" width="23.1" height="12.3" rx="2.6" fill="#f2dfce" stroke="#dcdcdf" stroke-width="0.9"/>
<text y="34.4" class="ax" style="font-size:9px"><tspan x="982.0" textLength="17.1" lengthAdjust="spacingAndGlyphs">USD</tspan></text>
<rect x="915.2" y="284.4" width="49" height="11.8" rx="1.5" fill="#6ba881"/>
<text y="293.7" fill="#e9f2eb" style="font-size:8.8px"><tspan x="918.8" textLength="40.6" lengthAdjust="spacingAndGlyphs">DOGEUSD</tspan></text>
<path d="M965.4 284.1h46.5a1.5 1.5 0 0 1 1.5 1.5v19.1a1.5 1.5 0 0 1 -1.5 1.5h-46.5z" fill="#6ba881"/>
<text y="293.9" fill="#f1f6f2" style="font-size:8.8px"><tspan x="972.9" textLength="28.3" lengthAdjust="spacingAndGlyphs">0.1439</tspan></text>
<text y="303.3" fill="#c6dfce" style="font-size:8.8px"><tspan x="973.4" textLength="35.5" lengthAdjust="spacingAndGlyphs">10:59:04</tspan></text>
<path d="M965.4 306.5h38.7a1.5 1.5 0 0 1 1.5 1.5v8a1.5 1.5 0 0 1 -1.5 1.5h-38.7z" fill="#000"/>
<text y="314.6" fill="#fff" style="font-size:8.8px"><tspan x="972.9" textLength="28.3" lengthAdjust="spacingAndGlyphs">0.1326</tspan></text>
<text y="15.3" fill="#cfd2d9" stroke="#cfd2d9" stroke-width="0.15" style="font-size:9.5px"><tspan x="7.9" textLength="55.0" lengthAdjust="spacingAndGlyphs">bitcoinwallah</tspan> <tspan x="66.0" textLength="41.5" lengthAdjust="spacingAndGlyphs">published</tspan> <tspan x="110.4" textLength="9.9" lengthAdjust="spacingAndGlyphs">on</tspan> <tspan x="124.4" textLength="74.3" lengthAdjust="spacingAndGlyphs">TradingView.com,</tspan> <tspan x="202.0" textLength="14.0" lengthAdjust="spacingAndGlyphs">Apr</tspan> <tspan x="219.7" textLength="10.5" lengthAdjust="spacingAndGlyphs">17,</tspan> <tspan x="232.9" textLength="21.4" lengthAdjust="spacingAndGlyphs">2022</tspan> <tspan x="258.1" textLength="23.0" lengthAdjust="spacingAndGlyphs">13:00</tspan> <tspan x="284.5" textLength="18.0" lengthAdjust="spacingAndGlyphs">UTC</tspan></text>
<g transform="translate(7.4 490.2) scale(0.405)" fill="#d6d8de"><path d="M14 22H7V11H0V4h14v18zM28 22h-8l7.5-18h8L28 22z"/><circle cx="20" cy="8" r="4"/></g>
<text y="499.5" fill="#d6d8de" stroke="#d6d8de" stroke-width="0.25" style="font-size:10.4px"><tspan x="25.2" textLength="55.9" lengthAdjust="spacingAndGlyphs">TradingView</tspan></text>
</svg></body></html>
